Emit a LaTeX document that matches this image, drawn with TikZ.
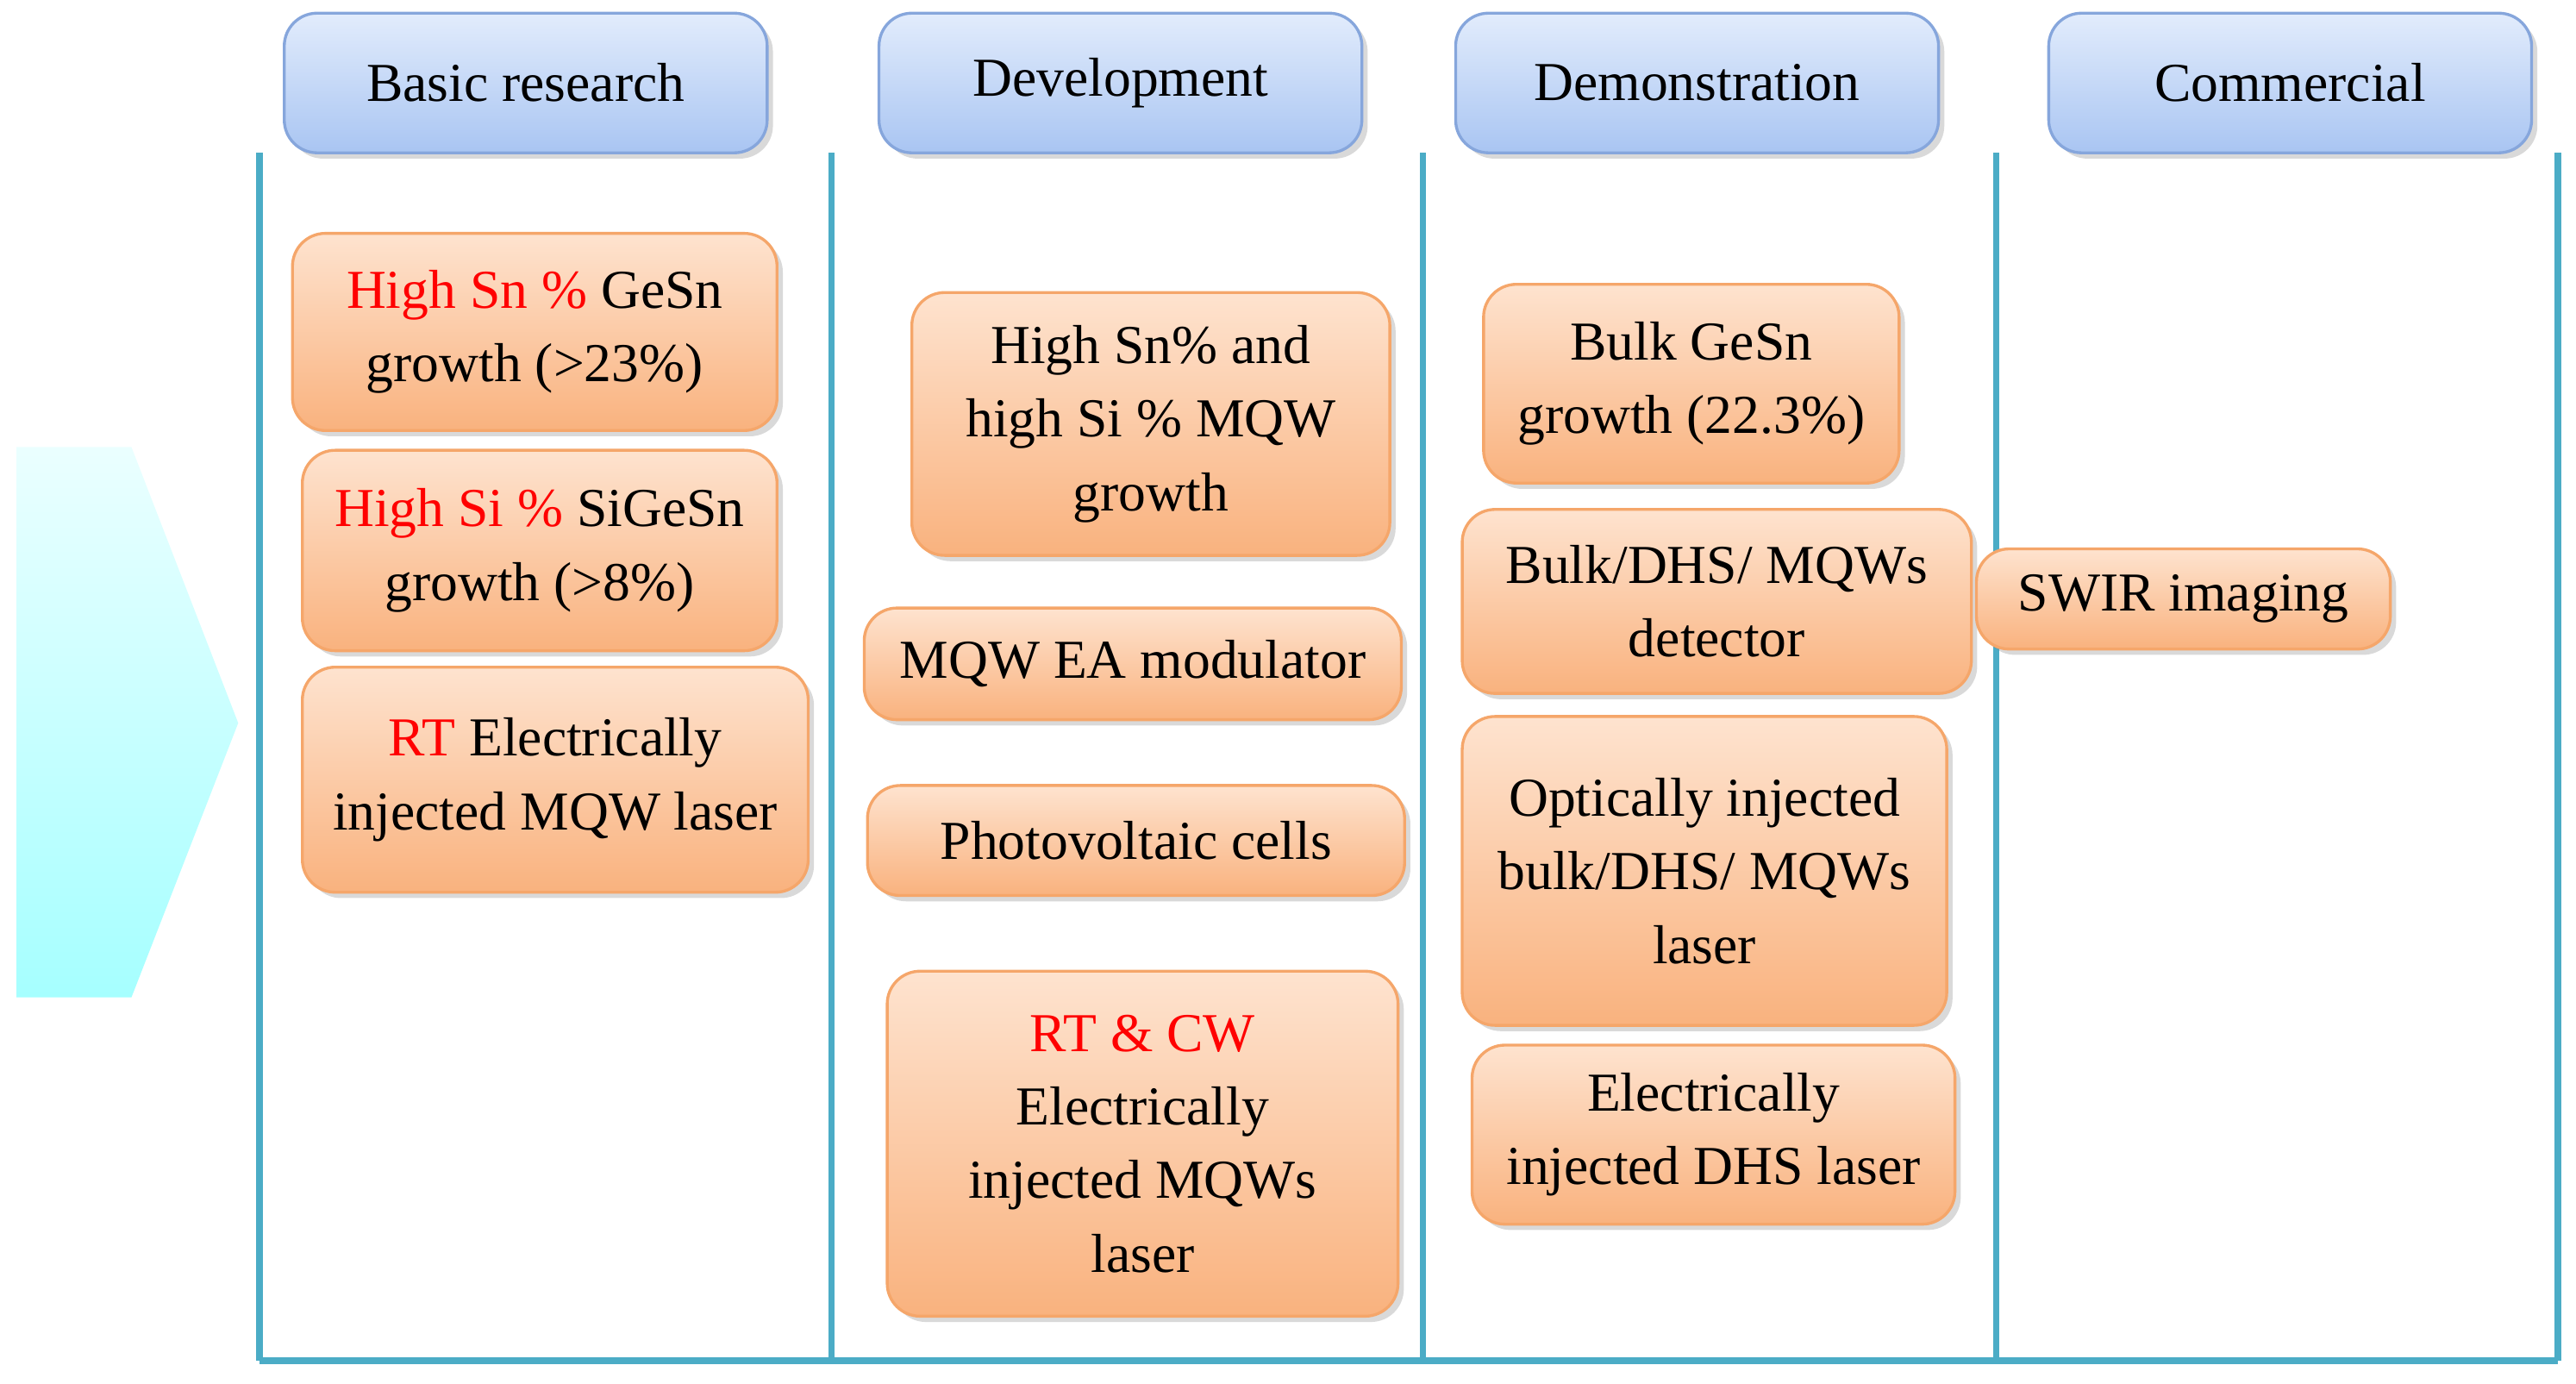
\documentclass[tikz,border=0pt]{standalone}
\usepackage{fontspec}
\setmainfont{Liberation Serif}
\usetikzlibrary{shadows}
\definecolor{lineblue}{HTML}{4BACC6}
\definecolor{obord}{HTML}{F5A66A}
\definecolor{otop}{HTML}{FEE3CF}
\definecolor{obot}{HTML}{F9B27E}
\definecolor{htop}{HTML}{E2ECFC}
\definecolor{hbot}{HTML}{A9C5F2}
\definecolor{hbord}{HTML}{86A6DC}
\tikzset{
  base/.style={rounded corners=0.4cm, align=center, inner sep=0pt,
    font=\fontsize{19}{25.5}\selectfont, drop shadow={shadow xshift=2pt, shadow yshift=-2pt, opacity=0.3}},
  ob/.style={base, draw=obord, line width=1pt, top color=otop, bottom color=obot},
  hb/.style={base, draw=hbord, line width=1pt, top color=htop, bottom color=hbot},
  sep/.style={draw=lineblue, line width=2.2pt}
}
\newcommand{\rd}[1]{\textcolor{red}{#1}}
\begin{document}
\begin{tikzpicture}[x=0.02cm,y=-0.02cm]
\useasboundingbox (0,0) rectangle (1568,842);
% arrow
\shade[top color=cyan!8, bottom color=cyan!35, shading angle=0]
  (10,272) -- (80,272) -- (145,440) -- (80,607) -- (10,607) -- cycle;
% lines
\foreach \x/\n in {158/a,506/b,866/c,1215/d,1557/e} {
  \coordinate (t\n) at (\x,93); \coordinate (b\n) at (\x,828);
  \draw[sep] (t\n) -- (b\n);}
\draw[sep] (ba) -- (be);
% headers
\node[hb, minimum width=5.88cm, minimum height=1.7cm] (h1) at (320,50.5) {Basic research};
\node[hb, minimum width=5.88cm, minimum height=1.7cm] (h2) at (682,50.5) {Development};
\node[hb, minimum width=5.88cm, minimum height=1.7cm] (h3) at (1033,50.5) {Demonstration};
\node[hb, minimum width=5.88cm, minimum height=1.7cm] (h4) at (1394,50.5) {Commercial};
% boxes
\node[ob, minimum width=5.9cm, minimum height=2.4cm] (n1) at (325.5,202) {\rd{High Sn \%} GeSn\\growth (>23\%)};
\node[ob, minimum width=5.78cm, minimum height=2.44cm] (n2) at (328.5,335) {\rd{High Si \%} SiGeSn\\growth (>8\%)};
\node[ob, minimum width=6.16cm, minimum height=2.74cm] (n3) at (338,474.5) {\rd{RT} Electrically\\injected MQW laser};
\node[ob, minimum width=5.82cm, minimum height=3.2cm] (n4) at (700.5,258) {High Sn\% and\\high Si \% MQW\\growth};
\node[ob, minimum width=6.54cm, minimum height=1.36cm] (n5) at (689.5,404) {MQW EA modulator};
\node[ob, minimum width=6.54cm, minimum height=1.34cm] (n6) at (691.5,511.5) {Photovoltaic cells};
\node[ob, minimum width=6.22cm, minimum height=4.2cm] (n7) at (695.5,696) {\rd{RT \& CW}\\Electrically\\injected MQWs\\laser};
\node[ob, minimum width=5.06cm, minimum height=2.42cm] (n8) at (1029.5,233.5) {Bulk GeSn\\growth (22.3\%)};
\node[ob, minimum width=6.2cm, minimum height=2.24cm] (n9) at (1045,366) {Bulk/DHS/ MQWs\\detector};
\node[ob, minimum width=5.9cm, minimum height=3.76cm] (n10) at (1037.5,530) {Optically injected\\bulk/DHS/ MQWs\\laser};
\node[ob, minimum width=5.88cm, minimum height=2.18cm] (n11) at (1043,690.5) {Electrically\\injected DHS laser};
\node[ob, minimum width=5.04cm, minimum height=1.22cm] (n12) at (1329,364.5) {SWIR imaging};
\end{tikzpicture}
\end{document}
